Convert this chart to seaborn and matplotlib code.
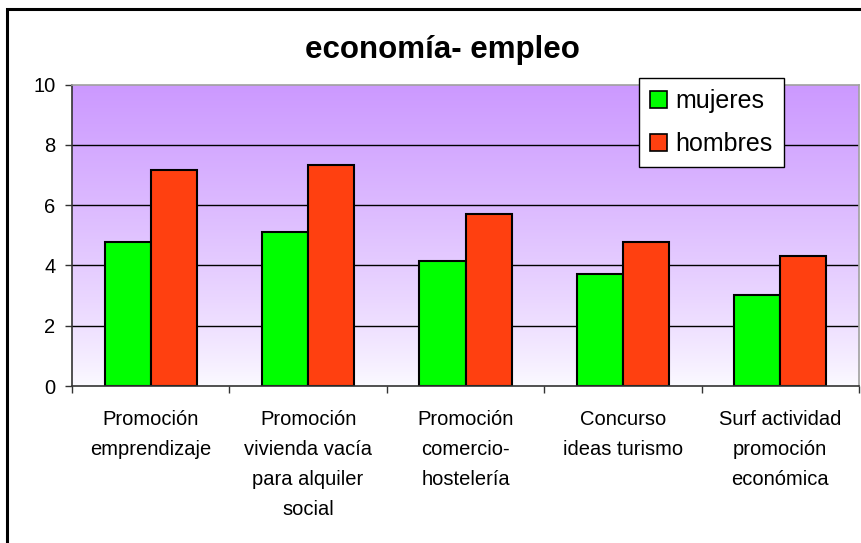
import numpy as np
import pandas as pd
import matplotlib
matplotlib.use("Agg")
import matplotlib.pyplot as plt
from matplotlib.patches import Rectangle, Patch
from matplotlib.colors import LinearSegmentedColormap
import seaborn as sns

categories = ["Promoción\nemprendizaje",
              "Promoción\nvivienda vacía\npara alquiler\nsocial",
              "Promoción\ncomercio-\nhostelería",
              "Concurso\nideas turismo",
              "Surf actividad\npromoción\neconómica"]
mujeres = [4.77, 5.10, 4.16, 3.71, 3.03]
hombres = [7.17, 7.35, 5.70, 4.77, 4.30]
series = ["mujeres", "hombres"]
colors = {"mujeres": "#00FF00", "hombres": "#FF4010"}
title = "economía- empleo"
yticks = [0, 2, 4, 6, 8, 10]

df = pd.DataFrame({
    "cat": categories * 2,
    "serie": ["mujeres"] * len(categories) + ["hombres"] * len(categories),
    "valor": mujeres + hombres,
})

sns.set_style("white")
plt.rcParams["font.family"] = ["Liberation Sans", "DejaVu Sans"]
plt.rcParams["text.color"] = "black"
plt.rcParams["xtick.color"] = "black"
plt.rcParams["ytick.color"] = "black"
plt.rcParams["axes.labelcolor"] = "black"

W, H = 861, 543
fig = plt.figure(figsize=(W / 100, H / 100), dpi=100)
fig.patch.set_facecolor("white")

# outer frame
fig.patches.append(Rectangle((7 / W, -0.2), 1.2, 1.2 - 9 / H,
                             transform=fig.transFigure, fill=False,
                             edgecolor="black", linewidth=2.2))

ax = fig.add_axes([72 / W, 1 - 386 / H, (859 - 72) / W, (386 - 84.7) / H])

# gradient background
grad = np.linspace(0, 1, 256).reshape(-1, 1)
grad = grad ** 0.8
cmap = LinearSegmentedColormap.from_list("bg", ["#FCFBFF", "#CC99FF"])
ax.imshow(grad, extent=(-0.5, 4.5, 0, 10), origin="lower", aspect="auto",
          cmap=cmap, zorder=0, interpolation="bilinear")

sns.barplot(data=df, x="cat", y="valor", hue="serie", hue_order=series,
            palette=colors, width=0.585, edgecolor="black", linewidth=1.5,
            saturation=1, ax=ax, legend=False, zorder=2, gap=0)

ax.set_xlim(-0.5, 4.5)
ax.set_ylim(0, 10)
ax.set_xlabel("")
ax.set_ylabel("")

for y in yticks[1:-1]:
    ax.axhline(y, color="black", linewidth=1.0, zorder=1)

ax.set_yticks(yticks)
ax.set_yticklabels([str(v) for v in yticks], fontsize=14.5, color="black")
ax.tick_params(axis="y", direction="out", length=5, width=1, pad=7,
               left=True, color="#333333")

ax.set_xticks(range(len(categories)))
ax.set_xticklabels(categories, fontsize=14.5, linespacing=1.75, va="top",
                   color="black")
ax.tick_params(axis="x", which="major", length=0, pad=17)
ax.set_xticks(np.arange(-0.5, 4.6, 1), minor=True)
ax.tick_params(axis="x", which="minor", direction="out", length=5, width=1,
               bottom=True, color="#333333")

for s in ["top", "right"]:
    ax.spines[s].set_color("#A0A0A0")
    ax.spines[s].set_linewidth(1.2)
for s in ["left", "bottom"]:
    ax.spines[s].set_color("#333333")
    ax.spines[s].set_linewidth(1.2)

handles = [Patch(facecolor=colors[s], edgecolor="black", linewidth=1.2, label=s)
           for s in series]
leg = fig.legend(handles=handles, loc="upper left",
                 bbox_to_anchor=(639 / W, 1 - 78 / H), fontsize=18,
                 frameon=True, fancybox=False, framealpha=1,
                 edgecolor="black", handlelength=0.65, handleheight=0.65,
                 handletextpad=0.35, labelspacing=0.75, borderpad=0.45,
                 borderaxespad=0, labelcolor="black")
leg.get_frame().set_linewidth(1.0)

fig.text(442 / W, 1 - 50 / H, title, ha="center", va="center",
         fontsize=22.5, fontweight="bold", color="black")

fig.savefig("out.png", dpi=100)
